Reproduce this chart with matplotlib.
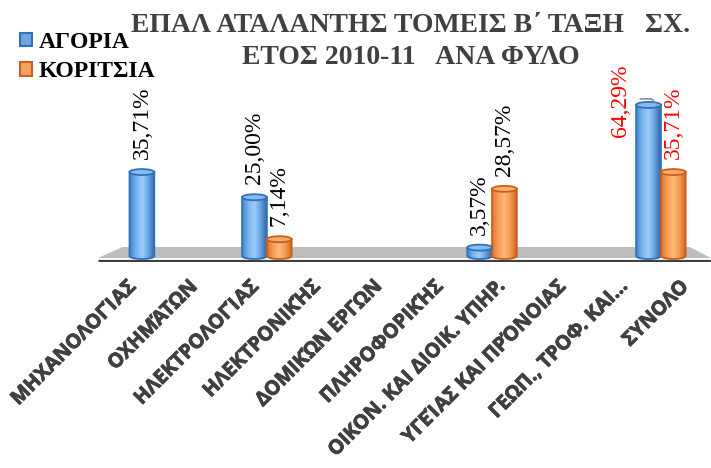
"""
EPAL Atalantis, B class sectors 2010-11, boys vs girls (3D-like cylinder bars).
"""

import matplotlib

matplotlib.use("Agg")
import matplotlib.patheffects as pe
import matplotlib.pyplot as plt
import numpy as np
from matplotlib.colors import LinearSegmentedColormap
from matplotlib.patches import Ellipse, Patch, PathPatch, Polygon
from matplotlib.path import Path
from matplotlib.transforms import blended_transform_factory

categories = [
    "ΜΗΧΑΝΟΛΟΓΊΑΣ",
    "ΟΧΗΜΆΤΩΝ",
    "ΗΛΕΚΤΡΟΛΟΓΊΑΣ",
    "ΗΛΕΚΤΡΟΝΙΚΉΣ",
    "ΔΟΜΙΚΏΝ ΕΡΓΩΝ",
    "ΠΛΗΡΟΦΟΡΙΚΉΣ",
    "ΟΙΚΟΝ. ΚΑΙ ΔΙΟΙΚ. ΥΠΗΡ.",
    "ΥΓΕΊΑΣ ΚΑΙ ΠΡΌΝΟΙΑΣ",
    "ΓΕΩΠ., ΤΡΟΦ. ΚΑΙ...",
    "ΣΥΝΟΛΟ",
]
boys = [35.71, 0, 25.00, 0, 0, 0, 3.57, 0, 0, 64.29]
girls = [0, 0, 7.14, 0, 0, 0, 28.57, 0, 0, 35.71]
series_names = ["ΑΓΟΡΙΑ", "ΚΟΡΙΤΣΙΑ"]
title_lines = ["ΕΠΑΛ ΑΤΑΛΑΝΤΗΣ ΤΟΜΕΙΣ Β΄ ΤΑΞΗ   ΣΧ.", "ΕΤΟΣ 2010-11   ΑΝΑ ΦΥΛΟ"]

W, H = 711, 468
SERIF = "Liberation Serif"
SANS = "Open Sans"

BLUE = dict(
    cmap=LinearSegmentedColormap.from_list("b", ["#4386d2", "#78b4ee", "#9ccffb", "#66a0de", "#3468a8"]),
    edge="#3170ba", top="#86bdf0", legend="#6fa8dc",
)
ORANGE = dict(
    cmap=LinearSegmentedColormap.from_list("o", ["#e2732c", "#f5a05a", "#fdb97a", "#f29a50", "#d0631d"]),
    edge="#c95f1c", top="#f8ab68", legend="#f4a060",
)

# pixel scale of the value axis
BASE_PX = 256
PX_PER_UNIT = 2.35
AX_TOP_PX = 60
AX_BOTTOM_PX = 262


def px_to_fig_y(py):
    return 1 - py / H


def draw_cylinder(ax, patch, style):
    h = patch.get_height()
    if h <= 0:
        return
    x0 = patch.get_x()
    w = patch.get_width()
    xc = x0 + w / 2
    eh = 6 / PX_PER_UNIT
    t = np.linspace(np.pi, 2 * np.pi, 30)
    arc = np.column_stack([xc + w / 2 * np.cos(t), eh / 2 * np.sin(t)])
    verts = np.vstack([[x0, h], arc, [x0 + w, h], [x0, h]])
    codes = [Path.MOVETO] + [Path.LINETO] * (len(verts) - 2) + [Path.CLOSEPOLY]
    body = PathPatch(Path(verts, codes), facecolor="none", edgecolor=style["edge"], lw=1.3, zorder=3)
    ax.add_patch(body)
    grad = np.linspace(0, 1, 64).reshape(1, -1)
    im = ax.imshow(grad, cmap=style["cmap"], aspect="auto", extent=[x0, x0 + w, -eh / 2, h],
                   zorder=2, interpolation="bicubic")
    im.set_clip_path(body)
    ax.add_patch(Ellipse((xc, h), w, eh, facecolor=style["top"], edgecolor=style["edge"], lw=1.3, zorder=4))


fig = plt.figure(figsize=(W / 100, H / 100), dpi=100)
ax = fig.add_axes([98 / W, px_to_fig_y(AX_BOTTOM_PX), (W - 98) / W, (AX_BOTTOM_PX - AX_TOP_PX) / H])
ax.set_xlim(-1, 9.89)
ax.set_ylim(-(AX_BOTTOM_PX - BASE_PX) / PX_PER_UNIT, (BASE_PX - AX_TOP_PX) / PX_PER_UNIT)
ax.axis("off")

# floor and base line
blend = blended_transform_factory(ax.transAxes, ax.transData)
floor_top = 9 / PX_PER_UNIT
floor_bot = -2 / PX_PER_UNIT
ax.add_patch(Polygon([(0, floor_bot), (0.04, floor_top), (0.965, floor_top), (1.0, floor_bot)],
                     closed=True, transform=blend, facecolor="#bdbdbd", edgecolor="none", zorder=1))
ax.plot([0, 1], [-4.5 / PX_PER_UNIT] * 2, transform=blend, color="#3f3f3f", lw=2.3,
        solid_capstyle="butt", zorder=1.5)

x = np.arange(len(categories))
off = 0.22
bw = 0.44
bars_b = ax.bar(x - off, boys, bw, alpha=0)
bars_g = ax.bar(x + off, girls, bw, alpha=0)
for p in bars_b:
    draw_cylinder(ax, p, BLUE)
for p in bars_g:
    draw_cylinder(ax, p, ORANGE)

fig.canvas.draw()


def fmt(v):
    return f"{v:.2f}%".replace(".", ",")


last = len(categories) - 1
for bars, vals in [(bars_b, boys), (bars_g, girls)]:
    for i, (p, v) in enumerate(zip(bars, vals)):
        if v <= 0:
            continue
        xc = p.get_x() + p.get_width() / 2
        color = "red" if i == last else "black"
        if bars is bars_b and i == last:
            # label pushed left of the tall bar, with a leader line
            ax.annotate(fmt(v), xy=(xc, v), xytext=(-28, 40), textcoords="offset pixels",
                        rotation=90, ha="center", va="top", fontsize=17, family=SERIF, color=color)
            bx, by = ax.transData.transform((xc, v))
            pts = np.array([[bx - 8, by + 6], [bx + 3, by + 6], [bx + 8, by + 1]])
            ax.add_line(plt.Line2D(pts[:, 0], pts[:, 1], transform=None, color="#8c8c8c", lw=1.2, zorder=5))
            continue
        ax.annotate(fmt(v), xy=(xc, v), xytext=(0, 13), textcoords="offset pixels",
                    rotation=90, ha="center", va="bottom", fontsize=17, family=SERIF, color=color)

# category labels (perspective spreads them a bit wider than the bars)
thick = [pe.withStroke(linewidth=0.6, foreground="#404040")]
for i, lab in enumerate(categories):
    dx = -21 + 5.1 * i
    ax.annotate(lab, xy=(i, 0), xycoords=("data", "axes fraction"), xytext=(dx, -22),
                textcoords="offset pixels", rotation=45, rotation_mode="anchor", ha="right", va="center",
                fontsize=14.3, family=SANS, weight="bold", color="#404040", annotation_clip=False,
                path_effects=thick)

# title
fig.text(411 / W, px_to_fig_y(32), title_lines[0], ha="center", va="baseline", fontsize=20,
         family=SERIF, weight="bold", color="#404040")
fig.text(411 / W, px_to_fig_y(64), title_lines[1], ha="center", va="baseline", fontsize=20,
         family=SERIF, weight="bold", color="#404040")

handles = [Patch(facecolor=BLUE["legend"], edgecolor=BLUE["edge"], lw=1.5),
           Patch(facecolor=ORANGE["legend"], edgecolor=ORANGE["edge"], lw=1.5)]
fig.legend(handles, series_names, loc="upper left", bbox_to_anchor=(20 / W, px_to_fig_y(32)),
           frameon=False, borderpad=0, borderaxespad=0, handlelength=0.5, handleheight=0.5,
           handletextpad=0.3, labelspacing=0.35, prop=dict(family=SERIF, weight="bold", size=17))

fig.savefig("out.png", dpi=100)
